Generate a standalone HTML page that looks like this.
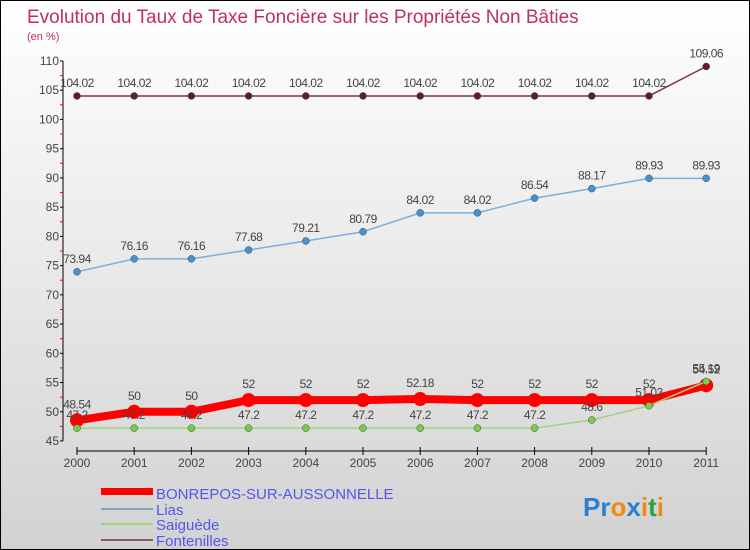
<!DOCTYPE html>
<html><head><meta charset="utf-8"><style>
body{margin:0}
#c{width:750px;height:550px;position:relative;box-sizing:border-box;border:1px solid #000;background:linear-gradient(#fff,#d2d2d2);font-family:"Liberation Sans",sans-serif;overflow:hidden}
svg text{font-family:"Liberation Sans",sans-serif}
</style></head><body>
<div id="c">
<svg id="s" width="750" height="550">
<text x="26" y="22" font-size="19" fill="#c0305f">Evolution du Taux de Taxe Foncière sur les Propriétés Non Bâties</text>
<text x="26" y="39" font-size="11" fill="#c0305f">(en %)</text>
<g id="legend">
<rect x="100" y="487" width="52" height="7" fill="#f00"/>
<text x="155" y="498" font-size="15" fill="#5555ee">BONREPOS-SUR-AUSSONNELLE</text>
<rect x="100" y="507" width="52" height="2" fill="#7aa6cc"/>
<text x="155" y="514" font-size="15" fill="#5555ee">Lias</text>
<rect x="100" y="522" width="52" height="2" fill="#9ed47a"/>
<text x="155" y="529" font-size="15" fill="#5555ee">Saiguède</text>
<rect x="100" y="538" width="52" height="2" fill="#8a5c5c"/>
<text x="155" y="545" font-size="15" fill="#5555ee">Fontenilles</text>
</g>
<text x="582" y="515" font-size="26" font-weight="bold"><tspan fill="#2a7fd0">Pr</tspan><tspan fill="#f08a10">o</tspan><tspan fill="#2a7fd0">x</tspan><tspan fill="#f08a10">i</tspan><tspan fill="#30a040">t</tspan><tspan fill="#f08a10">i</tspan></text>
</svg>
</div>
<script>
const years=["2000","2001","2002","2003","2004","2005","2006","2007","2008","2009","2010","2011"];
const yTicks=[45,50,55,60,65,70,75,80,85,90,95,100,105,110];
const bonrepos=[48.54,50,50,52,52,52,52.18,52,52,52,52,54.52];
const lias=[73.94,76.16,76.16,77.68,79.21,80.79,84.02,84.02,86.54,88.17,89.93,89.93];
const saiguede=[47.2,47.2,47.2,47.2,47.2,47.2,47.2,47.2,47.2,48.6,51.03,55.19];
const fontenilles=[104.02,104.02,104.02,104.02,104.02,104.02,104.02,104.02,104.02,104.02,104.02,109.06];
const NS="http://www.w3.org/2000/svg",s=document.getElementById('s');
const X=i=>76+i*57.2, Y=v=>440-(v-45)*380/65;
function mk(t,a,p){const e=document.createElementNS(NS,t);for(const k in a)e.setAttribute(k,a[k]);(p||s).appendChild(e);return e;}
const ax=mk('g',{});


let l=mk('line',{x1:62,y1:Y(110),x2:62,y2:Y(45),stroke:'#000'},ax);


yTicks.forEach((v,i)=>{
 mk('line',{x1:59,x2:62,y1:Y(v),y2:Y(v),stroke:'#000'},ax);
 if(i<yTicks.length-1)mk('line',{x1:59,x2:62,y1:Y(v+2.5),y2:Y(v+2.5),stroke:'#f00'},ax);
 const t=mk('text',{x:58,y:Y(v)+4,'font-size':12,fill:'#444','text-anchor':'end'},ax);t.textContent=v;
 
 
});
l=mk('line',{x1:X(0),y1:450,x2:X(11),y2:450,stroke:'#000'},ax);


years.forEach((y,i)=>{
 mk('line',{x1:X(i),x2:X(i),y1:446,y2:454,stroke:'#000'},ax);
 const t=mk('text',{x:X(i),y:466,'font-size':12,fill:'#444','text-anchor':'middle'},ax);t.textContent=y;
 
 
});
function series(name,vals,color,w,r,dot,off){
 const g=mk('g',{});
 
 
 const p=mk('polyline',{points:vals.map((v,i)=>X(i)+','+Y(v)).join(' '),fill:'none',stroke:color,'stroke-width':w},g);
 
 
 vals.forEach((v,i)=>{
  const c=mk('circle',{cx:X(i),cy:Y(v),r:r,fill:dot,stroke:r<5?'#2a5070':'none','stroke-width':r<5?0.5:0},g);
  
  
  const t=mk('text',{x:X(i),y:Y(v)-off,'font-size':12,fill:'#444','text-anchor':'middle','letter-spacing':'-0.5'},g);t.textContent=v;
  
  
 });
}
series('fontenilles',fontenilles,'#7a3a3a',1.5,3.5,'#6a1a1a',9);
series('lias',lias,'#7aaede',1.5,3.5,'#4a90cc',9);
series('bonrepos',bonrepos,'#f00',8,7,'#f00',12);
series('saiguede',saiguede,'#9ed47a',1.5,3.5,'#7ccc40',9);
</script>
</body></html>
